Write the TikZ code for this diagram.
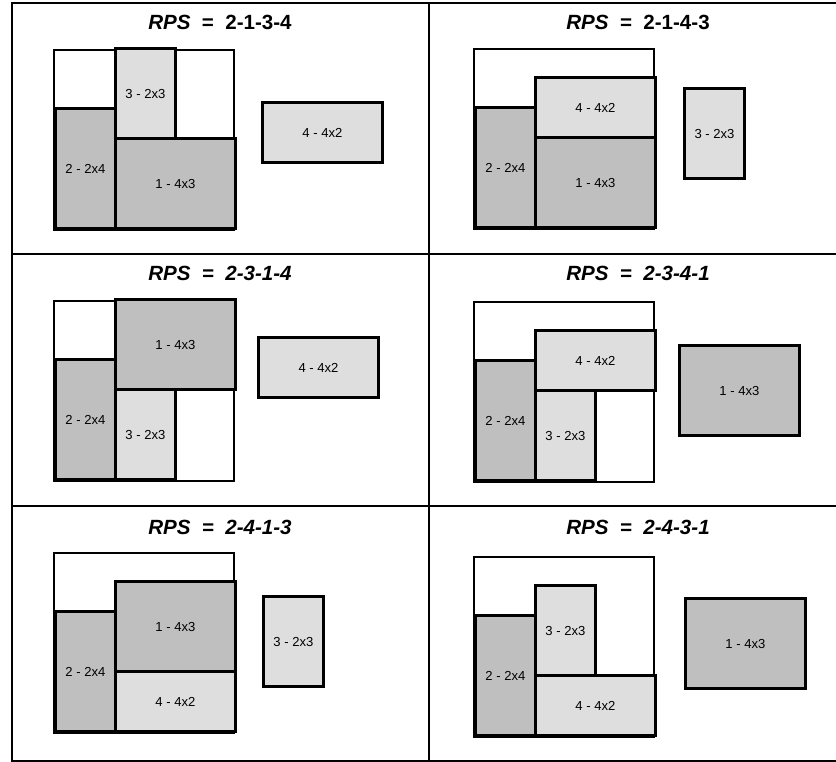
\documentclass[tikz,border=0pt]{standalone}
\usepackage{fontspec}
\setmainfont{Liberation Sans}
\definecolor{darkfill}{gray}{0.75}
\definecolor{lightfill}{gray}{0.87}
\tikzset{
    % Le bac 6x6 dans lequel on range les pieces
    bin/.style={
        draw=black,
        fill=white,
        line width=1.4pt
    },
    % Style commun des pieces (1 case = 1cm)
    piece/.style={
        draw=black,
        line width=2.8pt,
        anchor=south west,
        inner sep=0pt,
        font=\fontsize{12.4}{14}\selectfont
    },
    dark_piece/.style={piece, fill=darkfill},
    light_piece/.style={piece, fill=lightfill},
    piece_4x3/.style={dark_piece, minimum width=4cm, minimum height=3cm},
    piece_2x4/.style={dark_piece, minimum width=2cm, minimum height=4cm},
    piece_2x3/.style={light_piece, minimum width=2cm, minimum height=3cm},
    piece_4x2/.style={light_piece, minimum width=4cm, minimum height=2cm},
    % Titre de chaque case : la sequence RPS
    rps_title/.style={font=\fontsize{19.5}{22}\selectfont\bfseries},
    frame/.style={draw=black, line width=1.9pt}
}

\begin{document}
\begin{tikzpicture}

    \useasboundingbox (0,0) rectangle (27.867,25.4);

    % --- 1. Le tableau (3 lignes, 2 colonnes) ---
    \draw[frame] (27.867,25.3) -- (0.4,25.3) -- (0.4,0.033) -- (27.867,0.033);
    \draw[frame] (14.3,0.033) -- (14.3,25.3);
    \draw[frame] (0.4,16.933) -- (27.867,16.933);
    \draw[frame] (0.4,8.533) -- (27.867,8.533);

    % --- 2. Les six sequences ---

    % RPS = 2-1-3-4 : la piece 4 reste dehors
    \begin{scope}[shift={(1.8,17.733)}, name prefix=a-]
        \node[rps_title] (title) at (5.533,6.933) {\textit{RPS}~~=~~2-1-3-4};
        \draw[bin] (0,0) rectangle (6,6);
        \node[piece_2x4] (p2) at (0,0) {2 - 2x4};
        \node[piece_4x3] (p1) at (2,0) {1 - 4x3};
        \node[piece_2x3] (p3) at (2,3) {3 - 2x3};
        \node[piece_4x2] (p4) at (6.9,2.2) {4 - 4x2};
    \end{scope}

    % RPS = 2-1-4-3 : la piece 3 reste dehors
    \begin{scope}[shift={(15.8,17.767)}, name prefix=b-]
        \node[rps_title] (title) at (5.467,6.9) {\textit{RPS}~~=~~2-1-4-3};
        \draw[bin] (0,0) rectangle (6,6);
        \node[piece_2x4] (p2) at (0,0) {2 - 2x4};
        \node[piece_4x3] (p1) at (2,0) {1 - 4x3};
        \node[piece_4x2] (p4) at (2,3) {4 - 4x2};
        \node[piece_2x3] (p3) at (6.967,1.633) {3 - 2x3};
    \end{scope}

    % RPS = 2-3-1-4
    \begin{scope}[shift={(1.8,9.367)}, name prefix=c-]
        \node[rps_title] (title) at (5.533,6.933) {\textit{RPS~~=~~2-3-1-4}};
        \draw[bin] (0,0) rectangle (6,6);
        \node[piece_2x4] (p2) at (0,0) {2 - 2x4};
        \node[piece_2x3] (p3) at (2,0) {3 - 2x3};
        \node[piece_4x3] (p1) at (2,3) {1 - 4x3};
        \node[piece_4x2] (p4) at (6.767,2.733) {4 - 4x2};
    \end{scope}

    % RPS = 2-3-4-1 : la piece 1 reste dehors
    \begin{scope}[shift={(15.8,9.333)}, name prefix=d-]
        \node[rps_title] (title) at (5.467,6.967) {\textit{RPS~~=~~2-3-4-1}};
        \draw[bin] (0,0) rectangle (6,6);
        \node[piece_2x4] (p2) at (0,0) {2 - 2x4};
        \node[piece_2x3] (p3) at (2,0) {3 - 2x3};
        \node[piece_4x2] (p4) at (2,3) {4 - 4x2};
        \node[piece_4x3] (p1) at (6.8,1.5) {1 - 4x3};
    \end{scope}

    % RPS = 2-4-1-3
    \begin{scope}[shift={(1.8,0.967)}, name prefix=e-]
        \node[rps_title] (title) at (5.533,6.867) {\textit{RPS~~=~~2-4-1-3}};
        \draw[bin] (0,0) rectangle (6,6);
        \node[piece_2x4] (p2) at (0,0) {2 - 2x4};
        \node[piece_4x2] (p4) at (2,0) {4 - 4x2};
        \node[piece_4x3] (p1) at (2,2) {1 - 4x3};
        \node[piece_2x3] (p3) at (6.933,1.5) {3 - 2x3};
    \end{scope}

    % RPS = 2-4-3-1
    \begin{scope}[shift={(15.8,0.833)}, name prefix=f-]
        \node[rps_title] (title) at (5.467,7) {\textit{RPS~~=~~2-4-3-1}};
        \draw[bin] (0,0) rectangle (6,6);
        \node[piece_2x4] (p2) at (0,0) {2 - 2x4};
        \node[piece_4x2] (p4) at (2,0) {4 - 4x2};
        \node[piece_2x3] (p3) at (2,2) {3 - 2x3};
        \node[piece_4x3] (p1) at (7,1.567) {1 - 4x3};
    \end{scope}

\end{tikzpicture}
\end{document}
